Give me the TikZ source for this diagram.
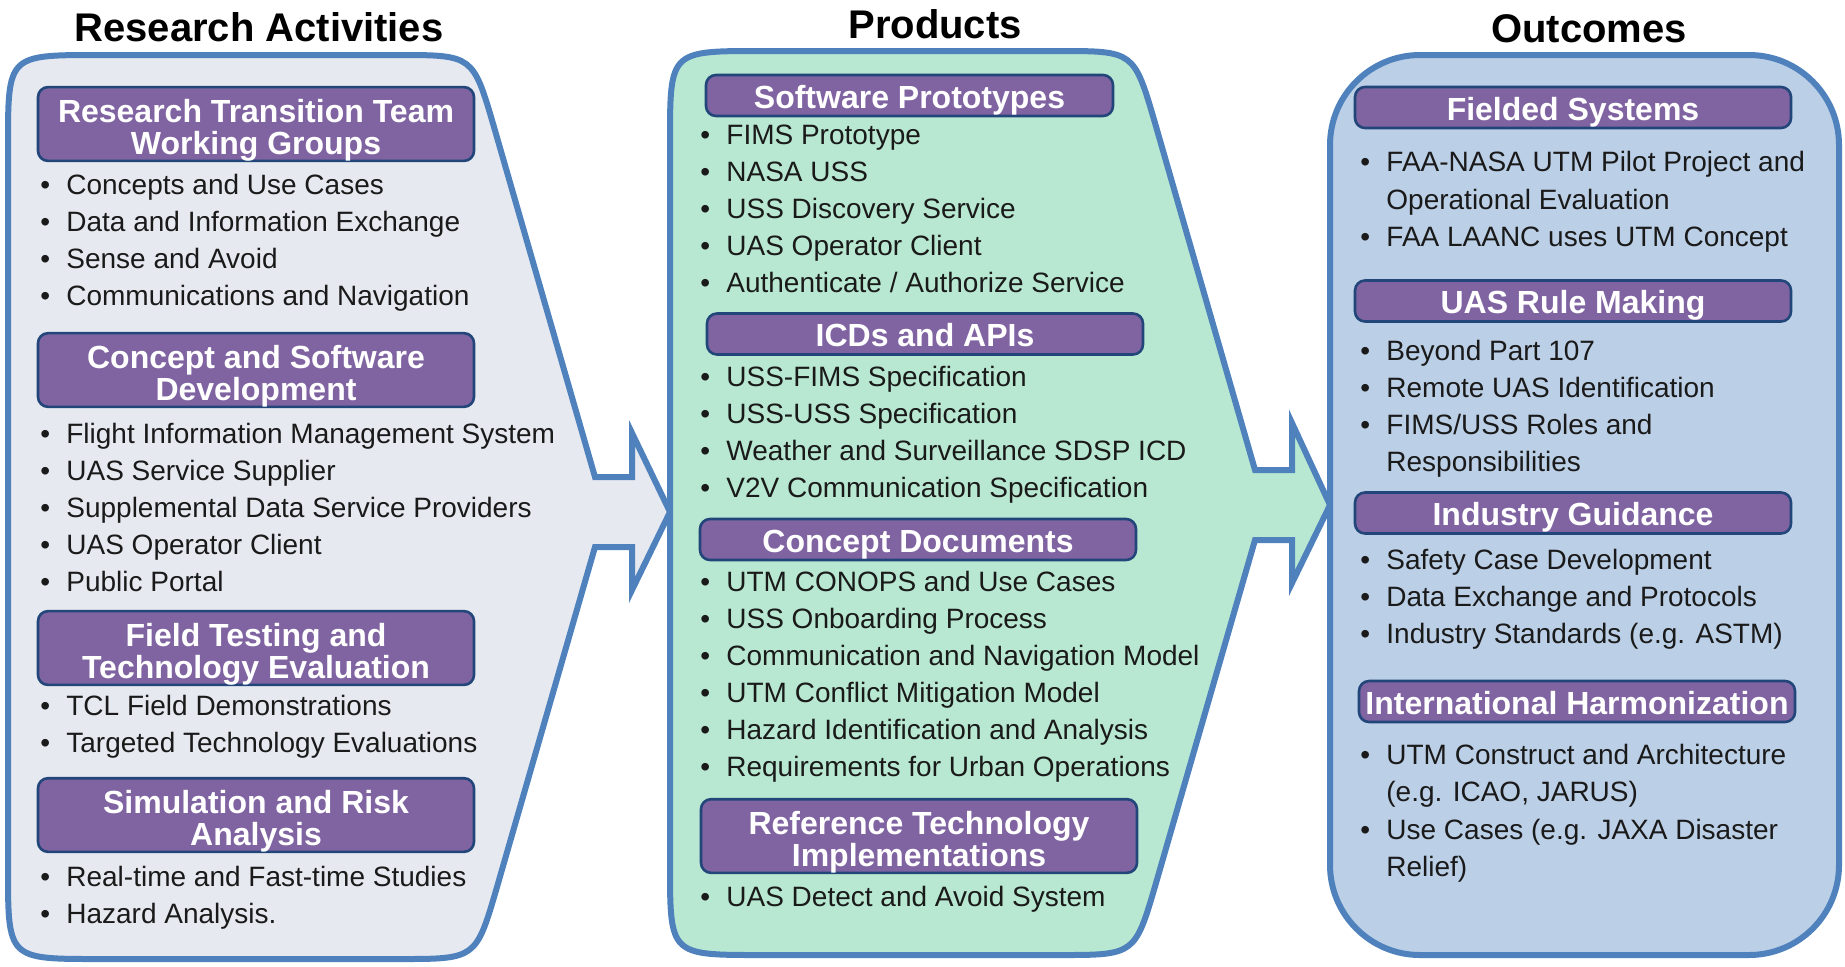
\documentclass[tikz,border=0pt]{standalone}
\usepackage{fontspec}
\setmainfont{Liberation Sans}
\definecolor{edge}{HTML}{4F81BD}
\definecolor{fillA}{HTML}{E6E9F0}
\definecolor{fillB}{HTML}{B8E8D1}
\definecolor{fillC}{HTML}{BBCFE6}
\definecolor{hdr}{HTML}{8064A2}
\definecolor{hdredge}{HTML}{23467A}
\definecolor{ink}{HTML}{1A1A1A}
\tikzset{
  panel/.style={draw=edge, line width=3pt, line join=miter},
  hdrbox/.style={draw=hdredge, line width=1.3pt, fill=hdr, rounded corners=5pt,
    text=white, font=\fontsize{16}{16}\selectfont\bfseries, align=center,
    inner sep=0pt, minimum width=218pt},
  hdrone/.style={hdrbox, minimum height=20.5pt, text height=14pt, text depth=1.2pt},
  hdrtwo/.style={hdrbox, minimum height=36pt},
  item/.style={anchor=base west, inner sep=0pt, text=ink, font=\fontsize{14}{16}\selectfont},
  coltitle/.style={anchor=base, inner sep=0pt, font=\fontsize{20}{22}\selectfont\bfseries},
}
\newcommand{\bul}{\makebox[13pt][l]{\textbullet}}
% taller first line keeps two-line header text centred in its box
\newcommand{\hstrut}{\rule{0pt}{17.5pt}}
\begin{document}
\begin{tikzpicture}[x=0.5pt, y=-0.5pt]
\useasboundingbox (0,0) rectangle (1845,966);

% column titles
\node[coltitle] (tA) at (259,41) {Research Activities};
\node[coltitle] (tB) at (935,38) {Products};
\node[coltitle] (tC) at (1589,42) {Outcomes};

% research activities panel with its arrow
\draw[panel, fill=fillA] (8,145) .. controls (8,55) .. (98,55) -- (398,55)
  .. controls (473,55) .. (494,127) -- (595,477) -- (632,477) -- (632,433)
  -- (670,512) -- (632,590) -- (632,547) -- (595,547) -- (497,887)
  .. controls (476,959) .. (400,959) -- (98,959) .. controls (8,959) .. (8,869) -- cycle;

% products panel with its arrow
\draw[panel, fill=fillB] (670,141) .. controls (670,51) .. (760,51) -- (1059,51)
  .. controls (1134,51) .. (1155,123) -- (1255,470) -- (1292,470) -- (1292,423)
  -- (1330,505) -- (1292,583) -- (1292,540) -- (1255,540) -- (1156,883)
  .. controls (1135,955) .. (1060,955) -- (760,955) .. controls (670,955) .. (670,865) -- cycle;

% outcomes panel
\draw[panel, fill=fillC, rounded corners=45pt] (1330,55) rectangle (1839,955);

% research activities
\node[hdrtwo] (hA1) at (256,124) {\hstrut Research Transition Team\\Working Groups};
\node[item] (a11) at (40,194) {\bul Concepts and Use Cases};
\node[item] (a12) at (40,231) {\bul Data and Information Exchange};
\node[item] (a13) at (40,268) {\bul Sense and Avoid};
\node[item] (a14) at (40,305) {\bul Communications and Navigation};

\node[hdrtwo] (hA2) at (256,370) {\hstrut Concept and Software\\Development};
\node[item] (a21) at (40,443) {\bul Flight Information Management System};
\node[item] (a22) at (40,480) {\bul UAS Service Supplier};
\node[item] (a23) at (40,517) {\bul Supplemental Data Service Providers};
\node[item] (a24) at (40,554) {\bul UAS Operator Client};
\node[item] (a25) at (40,591) {\bul Public Portal};

\node[hdrtwo] (hA3) at (256,648) {\hstrut Field Testing and\\Technology Evaluation};
\node[item] (a31) at (40,715) {\bul TCL Field Demonstrations};
\node[item] (a32) at (40,752) {\bul Targeted Technology Evaluations};

\node[hdrtwo] (hA4) at (256,815) {\hstrut Simulation and Risk\\Analysis};
\node[item] (a41) at (40,886) {\bul Real-time and Fast-time Studies};
\node[item] (a42) at (40,923) {\bul Hazard Analysis.};

% products
\node[hdrone, minimum width=203.5pt] (hB1) at (909.5,95.5) {Software Prototypes};
\node[item] (b11) at (700,144) {\bul FIMS Prototype};
\node[item] (b12) at (700,181) {\bul NASA USS};
\node[item] (b13) at (700,218) {\bul USS Discovery Service};
\node[item] (b14) at (700,255) {\bul UAS Operator Client};
\node[item] (b15) at (700,292) {\bul Authenticate / Authorize Service};

\node[hdrone] (hB2) at (925,334) {ICDs and APIs};
\node[item] (b21) at (700,386) {\bul USS-FIMS Specification};
\node[item] (b22) at (700,423) {\bul USS-USS Specification};
\node[item] (b23) at (700,460) {\bul Weather and Surveillance SDSP ICD};
\node[item] (b24) at (700,497) {\bul V2V Communication Specification};

\node[hdrone] (hB3) at (918,539.5) {Concept Documents};
\node[item] (b31) at (700,591) {\bul UTM CONOPS and Use Cases};
\node[item] (b32) at (700,628) {\bul USS Onboarding Process};
\node[item] (b33) at (700,665) {\bul Communication and Navigation Model};
\node[item] (b34) at (700,702) {\bul UTM Conflict Mitigation Model};
\node[item] (b35) at (700,739) {\bul Hazard Identification and Analysis};
\node[item] (b36) at (700,776) {\bul Requirements for Urban Operations};

\node[hdrtwo] (hB4) at (919,836) {\hstrut Reference Technology\\Implementations};
\node[item] (b41) at (700,906) {\bul UAS Detect and Avoid System};

% outcomes
\node[hdrone] (hC1) at (1573,107.5) {Fielded Systems};
\node[item] (c11) at (1360,171) {\bul FAA-NASA UTM Pilot Project and};
\node[item] (c11b) at (1386,209) {Operational Evaluation};
\node[item] (c12) at (1360,246) {\bul FAA LAANC uses UTM Concept};

\node[hdrone] (hC2) at (1573,301) {UAS Rule Making};
\node[item] (c21) at (1360,360) {\bul Beyond Part 107};
\node[item] (c22) at (1360,397) {\bul Remote UAS Identification};
\node[item] (c23) at (1360,434) {\bul FIMS/USS Roles and};
\node[item] (c23b) at (1386,471) {Responsibilities};

\node[hdrone] (hC3) at (1573,513) {Industry Guidance};
\node[item] (c31) at (1360,569) {\bul Safety Case Development};
\node[item] (c32) at (1360,606) {\bul Data Exchange and Protocols};
\node[item] (c33) at (1360,643) {\bul Industry Standards (e.g. ASTM)};

\node[hdrone] (hC4) at (1577,701.5) {International Harmonization};
\node[item] (c41) at (1360,764) {\bul UTM Construct and Architecture};
\node[item] (c41b) at (1386,801) {(e.g. ICAO, JARUS)};
\node[item] (c42) at (1360,839) {\bul Use Cases (e.g. JAXA Disaster};
\node[item] (c42b) at (1386,876) {Relief)};
\end{tikzpicture}
\end{document}
